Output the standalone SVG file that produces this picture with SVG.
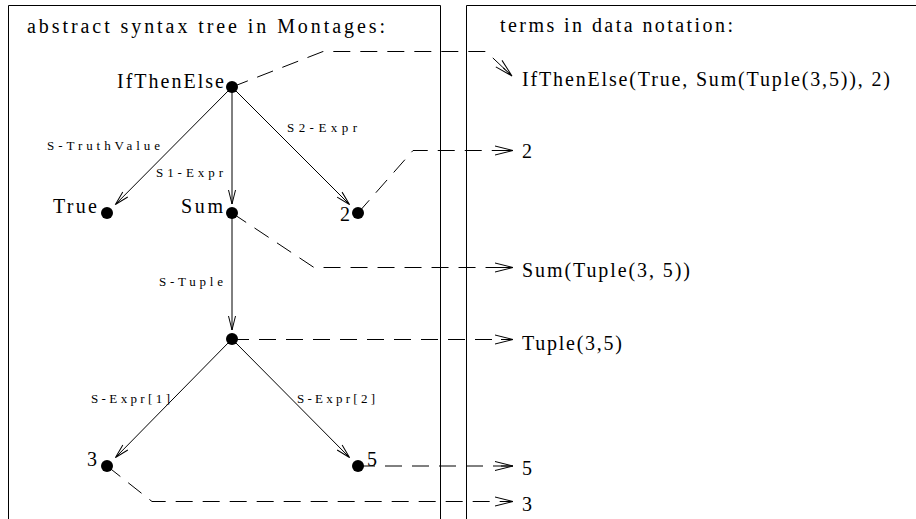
<svg xmlns="http://www.w3.org/2000/svg" width="916" height="519" viewBox="0 0 916 519">
<style>
.t{font-family:'Liberation Serif','DejaVu Serif','Times New Roman',serif;font-size:20px;fill:#000}
.l{font-family:'Liberation Serif','DejaVu Serif','Times New Roman',serif;font-size:13px;fill:#000}
.box{fill:none;stroke:#000;stroke-width:1}
.edge{fill:none;stroke:#000;stroke-width:1;marker-end:url(#ah)}
.dash{fill:none;stroke:#000;stroke-width:1;stroke-dasharray:17 10;marker-end:url(#ah2)}
.dot{fill:#000}
</style>
<defs>
<marker id="ah" viewBox="-16 -8 20 16" markerWidth="20" markerHeight="16" refX="0" refY="0" orient="auto" markerUnits="userSpaceOnUse">
<path d="M-14,-3.5 L0,0 L-14,3.5" fill="none" stroke="#000" stroke-width="1"/>
</marker>
<marker id="ah2" viewBox="-20 -8 24 16" markerWidth="24" markerHeight="16" refX="0" refY="0" orient="auto" markerUnits="userSpaceOnUse">
<path d="M-18,-4.5 L0,0 L-18,4.5 M-12,0 L0,0" fill="none" stroke="#000" stroke-width="1"/>
</marker>
</defs>
<rect width="916" height="519" fill="#fff"/>
<g id="frames">
<path class="box" d="M8.5,519 L8.5,5.5 L440.5,5.5 L440.5,519"/>
<path class="box" d="M466.5,519 L466.5,5.5 L916,5.5"/>
<text class="t" x="27" y="33" textLength="358" lengthAdjust="spacing">abstract syntax tree in Montages:</text>
<text class="t" x="500" y="32" textLength="233" lengthAdjust="spacing">terms in data notation:</text>
</g>
<g id="connectors">
<path class="edge" d="M232,87 L115.4,204.5"/>
<path class="edge" d="M232,87 L232,204"/>
<path class="edge" d="M232,87 L349.5,204.5"/>
<path class="edge" d="M232,213 L232,330"/>
<path class="edge" d="M232,339 L115.5,457.5"/>
<path class="edge" d="M232,339 L349.5,457.5"/>
<path class="dash" d="M232,87 L323,51.5 L486,51.5 L512,76"/>
<path class="dash" d="M358,213 L413,150.5 L513,150.5"/>
<path class="dash" d="M232,213 L314,267.5 L513,267.5"/>
<path class="dash" d="M232,339.5 L513,339.5"/>
<path class="dash" d="M358,466 L513,466"/>
<path class="dash" d="M107,466 L152,501.5 L513,501.5"/>
<text class="l" x="47" y="150" textLength="113" lengthAdjust="spacing">S-TruthValue</text>
<text class="l" x="156" y="177" textLength="67" lengthAdjust="spacing">S1-Expr</text>
<text class="l" x="287" y="132" textLength="70" lengthAdjust="spacing">S2-Expr</text>
<text class="l" x="159" y="286" textLength="64" lengthAdjust="spacing">S-Tuple</text>
<text class="l" x="91" y="403" textLength="79" lengthAdjust="spacing">S-Expr[1]</text>
<text class="l" x="297" y="403" textLength="78" lengthAdjust="spacing">S-Expr[2]</text>
</g>
<g id="n-ifthenelse"><circle class="dot" cx="232" cy="87" r="6"/><text class="t" x="117" y="88" textLength="107" lengthAdjust="spacing">IfThenElse</text></g>
<g id="n-true"><circle class="dot" cx="107" cy="213" r="6"/><text class="t" x="53" y="213" textLength="44" lengthAdjust="spacing">True</text></g>
<g id="n-sum"><circle class="dot" cx="232" cy="213" r="6"/><text class="t" x="181" y="213" textLength="42" lengthAdjust="spacing">Sum</text></g>
<g id="n-two"><circle class="dot" cx="358" cy="213" r="6"/><text class="t" x="340" y="221">2</text></g>
<g id="n-tuple"><circle class="dot" cx="232" cy="339" r="6"/></g>
<g id="n-three"><circle class="dot" cx="107" cy="466" r="6"/><text class="t" x="87" y="466">3</text></g>
<g id="n-five"><circle class="dot" cx="358" cy="466" r="6"/><text class="t" x="367" y="466">5</text></g>
<g id="term-ifthenelse"><text class="t" x="522" y="86" textLength="368" lengthAdjust="spacing">IfThenElse(True, Sum(Tuple(3,5)), 2)</text></g>
<g id="term-two"><text class="t" x="522" y="158">2</text></g>
<g id="term-sum"><text class="t" x="522" y="277" textLength="168" lengthAdjust="spacing">Sum(Tuple(3, 5))</text></g>
<g id="term-tuple"><text class="t" x="522" y="350" textLength="100" lengthAdjust="spacing">Tuple(3,5)</text></g>
<g id="term-five"><text class="t" x="522" y="475">5</text></g>
<g id="term-three"><text class="t" x="522" y="511">3</text></g>
</svg>
